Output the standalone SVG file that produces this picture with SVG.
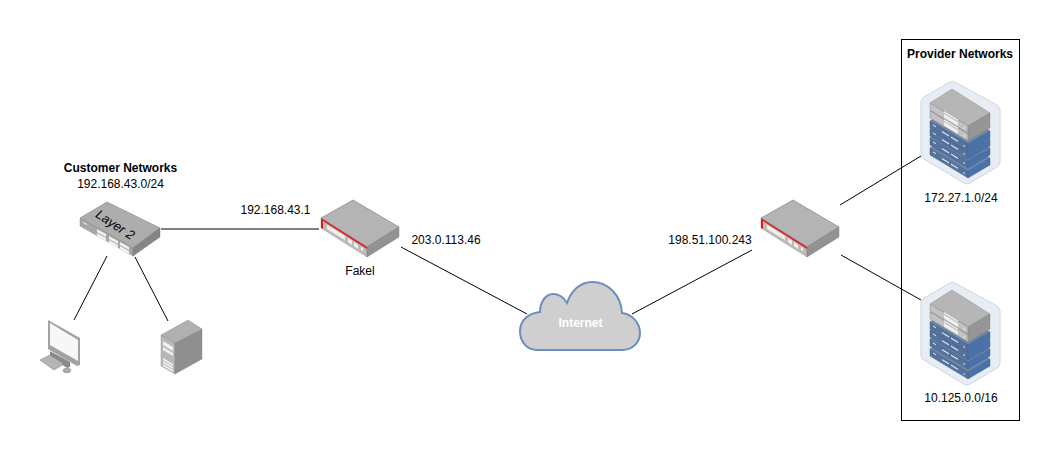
<svg xmlns="http://www.w3.org/2000/svg" xmlns:xlink="http://www.w3.org/1999/xlink" width="1061" height="461" viewBox="0 0 1061 461">
<style>
text{font-family:"Liberation Sans",Arial,sans-serif;font-size:12px;fill:#000;text-anchor:middle}
.b{font-weight:bold}
#connectors line{stroke:#000;stroke-width:1}
.t{fill:#b4b4b4;stroke:#777;stroke-width:.6}
.l{fill:#bcbcbc;stroke:#8a8a8a;stroke-width:.4}.r{fill:#929292;stroke:#777;stroke-width:.4}
.w{fill:#f0f0f0}
.bt{fill:#7187a8;stroke:#4c6284;stroke-width:.4}.bl{fill:#55739f;stroke:#3f5578;stroke-width:.4}.br{fill:#4a72aa;stroke:#3f5f8c;stroke-width:.4}
.gt{fill:#b6b6b6;stroke:#7d7d7d;stroke-width:.4}.gl{fill:#c2c2c2;stroke:#7d7d7d;stroke-width:.4}.gr{fill:#969696;stroke:#7d7d7d;stroke-width:.4}
</style>
<defs>
<g id="router">
<path class="t" d="M0 18L32 0L78 27L46 47Z"/>
<path class="l" d="M0 18L46 47V57L0 28Z"/>
<path class="r" d="M46 47L78 27V37L46 57Z"/>
<path d="M0 18L46 47V49L2 21V29L0 28Z" fill="#e01b1b"/>
<path class="w" d="M6 25L24 36V40L6 29ZM27 38L31 41V45L27 42ZM33 42L37 45V49L33 46ZM40 47L42 48V51L40 50Z"/>
</g>
<g id="bunit">
<path class="bt" d="M0 0L22 -14L60 10L38 23Z"/>
<path class="bl" d="M0 0L38 23V30L0 7Z"/>
<path class="br" d="M38 23L60 10V17L38 30Z"/>
<path d="M12 10L19 14.200V15.400L12 11.200ZM21 15.500L28 19.700V20.900L21 16.700ZM3 3.500L6 5.300V6.300L3 4.500Z" fill="#e4ecf6"/>
<circle cx="34" cy="25" r=".8" fill="#e4ecf6"/>
</g>
<g id="gunit">
<path class="gt" d="M0 0L22 -14L60 10L38 23Z"/>
<path class="gl" d="M0 0L38 23V30L0 7Z"/>
<path class="gr" d="M38 23L60 10V17L38 30Z"/>
<path class="w" d="M14 8L28 16.500V18L14 9.500ZM14 11L28 19.500V23L14 14.500Z"/>
<circle cx="34" cy="25" r=".8" fill="#eee"/>
</g>
<g id="stack">
<path d="M30 1Q32 0 35 1L77 24Q80 26 80 29V81Q80 84 77 86L50 102Q47 104 44 102L4 78Q1 76 1 73V21Q1 18 4 16Z" fill="#e8edf3" stroke="#ccd6e2"/>
<use href="#bunit" x="10" y="67"/>
<use href="#bunit" x="10" y="57"/>
<use href="#bunit" x="10" y="48"/>
<use href="#bunit" x="10" y="40"/>
<use href="#gunit" x="10" y="30"/>
<use href="#gunit" x="10" y="22"/>
</g>
</defs>
<g id="connectors">
<line x1="161" y1="229" x2="319" y2="229"/>
<line x1="107" y1="256" x2="74" y2="320"/>
<line x1="135" y1="257" x2="168" y2="321"/>
<line x1="401" y1="247" x2="527" y2="314"/>
<line x1="632" y1="314" x2="752" y2="250"/>
<line x1="840" y1="205" x2="921" y2="156"/>
<line x1="841" y1="255" x2="921" y2="300"/>
</g>
<g id="customer-label"><text class="b" x="120.500" y="172">Customer Networks</text><text x="120.500" y="188">192.168.43.0/24</text></g>
<g id="layer2-switch">
<path fill="#adadad" stroke="#808080" stroke-width=".6" d="M80 218L107 202L160 228L133 248Z"/>
<path fill="#a6a6a6" stroke="#808080" stroke-width=".4" d="M80 218L133 248V256L80 226Z"/>
<path fill="#858585" stroke="#777" stroke-width=".4" d="M133 248L160 228V237L133 256Z"/>
<path class="w" d="M83 222L87 224V225L83 223ZM97 229L106 234V237L97 232ZM97 233L106 238V241L97 236ZM109 236L118 241V244L109 239ZM109 240L118 245V248L109 243ZM120 242L129 247V250L120 245ZM120 246L129 251V254L120 249Z"/>
<text transform="translate(115 225) rotate(33)" style="font-style:italic;font-size:13px" y="4">Layer 2</text>
</g>
<g id="workstation">
<path fill="#8a8a8a" d="M50 351L70 362V367L67 368L50 357Z"/>
<path fill="#a2a2a2" d="M48 320L80 338V365L77 366L48 349Z"/>
<path fill="#f7f7f7" d="M50 323L78 340V361L50 345Z"/>
<path fill="#b5b5b5" stroke="#777" stroke-width=".5" d="M40 360L50 355L64 364L54 370Z"/>
<ellipse cx="67" cy="370.500" rx="4" ry="2.500" fill="#aaa" stroke="#888" stroke-width=".4"/>
</g>
<g id="server">
<path fill="#b8b8b8" stroke="#8a8a8a" stroke-width=".4" d="M161 335L175 343V374L161 366Z"/>
<path fill="#8f8f8f" stroke="#808080" stroke-width=".4" d="M175 343L202 329V359L175 374Z"/>
<path fill="#b0b0b0" stroke="#808080" stroke-width=".4" d="M161 335L188 320L202 329L175 343Z"/>
<path class="w" d="M163 341L173 347V351L163 345ZM163 347L173 353V356L163 350ZM163 358L173 364V366L163 360ZM163 361L173 367V369L163 363ZM163 364L173 370V372L163 366Z"/>
</g>
<g id="fakel"><use href="#router" x="321" y="200"/><text x="360" y="275">Fakel</text></g>
<text x="275.500" y="214" id="l1">192.168.43.1</text>
<text x="446" y="244" id="l2">203.0.113.46</text>
<g id="internet">
<path d="M537 350H622C633 350 640 342 640 333C640 323 632 314 622 313C621 295 608 282 592 282C580 282 571 291 567 303C563 296 558 294 553 294C545 294 540 303 540 312C529 313 520 320 520 331C520 342 527 350 537 350Z" fill="#cfcfcf" stroke="#6c8ebf" stroke-width="2"/>
<text class="b" x="580.500" y="327" style="fill:#fff">Internet</text>
</g>
<g id="provider-router"><use href="#router" x="761" y="200"/></g>
<text x="710" y="244" id="l3">198.51.100.243</text>
<g id="provider-networks">
<rect x="901.500" y="39.500" width="118" height="381" fill="none" stroke="#000" stroke-width="1"/>
<text class="b" x="960" y="58">Provider Networks</text>
</g>
<g id="net1"><use href="#stack" x="920" y="81"/><text x="961" y="202">172.27.1.0/24</text></g>
<g id="net2"><use href="#stack" x="920" y="282"/><text x="961" y="402">10.125.0.0/16</text></g>
</svg>
